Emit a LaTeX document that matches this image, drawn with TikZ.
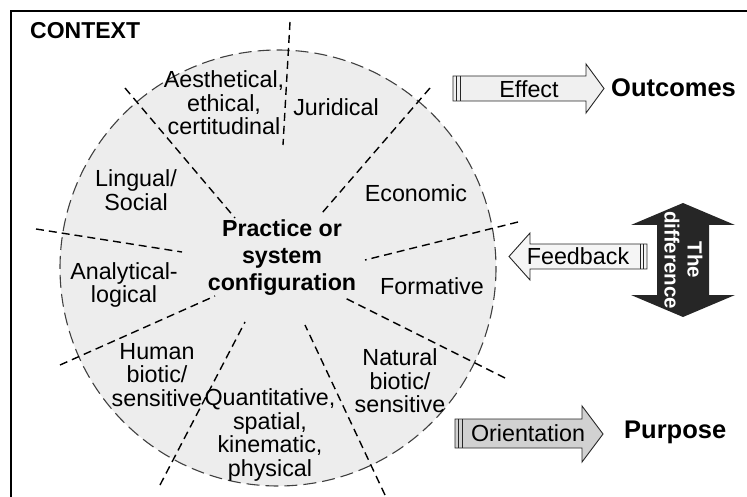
\documentclass[tikz,border=0pt]{standalone}
\usepackage{fontspec}
\setmainfont{Liberation Sans}
\begin{document}
\begin{tikzpicture}[x=1pt,y=-1pt,
  lbl/.style={align=center, font=\fontsize{23.3}{23.5}\selectfont, inner sep=0pt},
  ctr/.style={align=center, font=\bfseries\fontsize{23.2}{27}\selectfont, inner sep=0pt},
  big/.style={font=\bfseries\fontsize{25.5}{28}\selectfont, inner sep=0pt},
  divider/.style={draw=black, line width=1.4pt, dash pattern=on 8pt off 5pt},
  rim/.style={draw=black!75, line width=1.1pt, dash pattern=on 13pt off 6pt},
  flowarrow/.style={draw=black!85, line width=0.9pt, line join=miter},
]
\useasboundingbox (0,0) rectangle (747,497);

% frame of the context
\draw[line width=2.2pt] (11,497) -- (11,11) -- (747,11);
\node[font=\bfseries\fontsize{23}{24}\selectfont, inner sep=0pt, anchor=west] (context) at (30,31) {CONTEXT};

% the aspect wheel
\coordinate (hub) at (278,268);
\fill[black!7] (hub) circle[radius=218];
\draw[rim] (hub) circle[radius=218];

% dividers between the aspects
\coordinate (d1a) at (290,22);   \coordinate (d1b) at (283,145);
\coordinate (d2a) at (125,88);   \coordinate (d2b) at (235,218);
\coordinate (d3a) at (36,229);   \coordinate (d3b) at (182,252);
\coordinate (d4a) at (60,365);   \coordinate (d4b) at (215,296);
\coordinate (d5a) at (160,485);  \coordinate (d5b) at (245,322);
\coordinate (d6a) at (385,495);  \coordinate (d6b) at (305,325);
\coordinate (d7a) at (505,378);  \coordinate (d7b) at (345,298);
\coordinate (d8a) at (518,222);  \coordinate (d8b) at (365,260);
\coordinate (d9a) at (430,88);   \coordinate (d9b) at (322,213);
\foreach \i in {1,...,9} \draw[divider] (d\i a) -- (d\i b);

% aspect labels
\node[lbl] (aesth) at (224,103) {Aesthetical,\\ethical,\\certitudinal};
\node[lbl] (jurid) at (336,107) {Juridical};
\node[lbl] (econ) at (416,193) {Economic};
\node[lbl] (ling) at (136,190) {Lingual/\\Social};
\node[lbl] (anal) at (124,285) {Analytical-\\logical};
\node[lbl] (form) at (432,286) {Formative};
\node[lbl] (human) at (157,375) {Human\\biotic/\\sensitive};
\node[lbl] (natur) at (400,381) {Natural\\biotic/\\sensitive};
\node[lbl] (quant) at (270,435) {Quantitative,\\spatial,\\kinematic,\\physical};
\node[ctr] (practice) at (282,258) {Practice or\\system\\configuration};

% effect arrow
\draw[flowarrow, fill=black!6] (453,76) -- (586,76) -- (586,64) -- (604,88.5) -- (586,113) -- (586,101) -- (453,101) -- cycle;
\draw[flowarrow] (456.5,76) -- (456.5,101) (460,76) -- (460,101);
\node[lbl] (effect) at (529,89) {Effect};
\node[big, anchor=west] (outcomes) at (611,88) {Outcomes};

% feedback arrow
\draw[flowarrow, fill=black!4] (647,244) -- (530,244) -- (530,233) -- (509,256.5) -- (530,280) -- (530,269) -- (647,269) -- cycle;
\draw[flowarrow] (643.5,244) -- (643.5,269) (640,244) -- (640,269);
\node[lbl] (feedback) at (578,256) {Feedback};

% the difference
\fill[black!85] (683,203) -- (735,225) -- (709,225) -- (709,295) -- (735,295) -- (683,317) -- (631,295) -- (657,295) -- (657,225) -- (631,225) -- cycle;
\node[rotate=-90, align=center, text=white, inner sep=0pt,
      font=\bfseries\fontsize{20.5}{23}\selectfont] (diff) at (683.5,260) {The\\difference};

% orientation arrow
\draw[flowarrow, fill=black!18] (455,419) -- (582,419) -- (582,406) -- (603,434) -- (582,462) -- (582,448) -- (455,448) -- cycle;
\draw[flowarrow] (458.5,419) -- (458.5,448) (462,419) -- (462,448);
\node[lbl] (orient) at (528,433) {Orientation};
\node[big, anchor=west] (purpose) at (624,432) {Purpose};
\end{tikzpicture}
\end{document}
